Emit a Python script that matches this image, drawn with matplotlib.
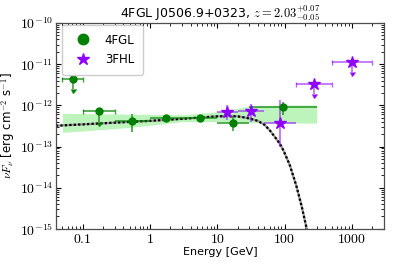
import numpy as np
import matplotlib
matplotlib.use("Agg")
import matplotlib.pyplot as plt
from matplotlib.ticker import FuncFormatter, LogLocator, FixedLocator
from matplotlib.lines import Line2D

plt.rcParams['mathtext.fontset'] = 'cm'
plt.rcParams['font.family'] = ['DejaVu Sans']

# ---- data ----
# 4FGL band fluxes (GeV, erg cm^-2 s^-1)
fgl_E = [0.0707, 0.173, 0.548, 1.73, 5.48, 17.3, 94.9]
fgl_Elo = [0.05, 0.1, 0.3, 1.0, 3.0, 10.0, 30.0]
fgl_Ehi = [0.1, 0.3, 1.0, 3.0, 10.0, 30.0, 300.0]
fgl_F = [4.3e-12, 7.4e-13, 4.1e-13, 4.9e-13, 4.8e-13, 3.7e-13, 9.3e-13]
fgl_Ferr_lo = [1.8e-12, 3.4e-13, 1.8e-13, 0.5e-13, 0.5e-13, 1.3e-13, 3.4e-13]
fgl_Ferr_hi = [0.0, 0.0, 2.0e-13, 0.5e-13, 0.5e-13, 1.8e-13, 2.7e-13]
fgl_ul = [True, True, False, False, False, False, False]

# 3FHL fluxes
fhl_E = [14.1, 31.6, 86.6, 274.0, 1000.0]
fhl_Elo = [10.0, 20.0, 50.0, 150.0, 500.0]
fhl_Ehi = [20.0, 50.0, 150.0, 500.0, 2000.0]
fhl_F = [7.0e-13, 7.4e-13, 3.7e-13, 3.3e-12, 1.15e-11]
fhl_Ferr_lo = [2.5e-13, 3.4e-13, 2.7e-13, 1.4e-12, 5.0e-12]
fhl_Ferr_hi = [3.2e-13, 3.6e-13, 9.8e-13, 0.0, 0.0]
fhl_ul = [False, False, False, True, True]

# 4FGL butterfly
band_E = [0.05, 0.5, 3.0, 10.0, 30.0, 100.0, 300.0]
band_hi = [6.4e-13, 6.1e-13, 5.9e-13, 7.0e-13, 9.5e-13, 1.02e-12, 1.02e-12]
band_lo = [2.2e-13, 2.9e-13, 4.0e-13, 4.0e-13, 3.8e-13, 3.7e-13, 3.7e-13]

# model curve (EBL absorbed)
mod_E = [0.04, 0.1, 0.3, 1.0, 3.0, 6.0, 10.0, 15.0, 20.0, 25.0, 30.0, 40.0,
         50.0, 60.0, 70.0, 80.0, 90.0, 100.0, 120.0, 150.0, 180.0, 214.0, 250.0]
mod_F = [3.2e-13, 3.45e-13, 3.8e-13, 4.2e-13, 4.7e-13, 5.1e-13, 5.4e-13, 5.5e-13,
         5.4e-13, 5.1e-13, 4.8e-13, 4.2e-13, 3.4e-13, 2.5e-13, 1.8e-13, 1.35e-13,
         1.0e-13, 7.0e-14, 3.5e-14, 1.1e-14, 3.5e-15, 1.0e-15, 2.5e-16]

x_ticks = [0.1, 1, 10, 100, 1000]
x_ticklabels = ['0.1', '1', '10', '100', '1000']
y_ticks = [1e-15, 1e-14, 1e-13, 1e-12, 1e-11, 1e-10]

title = r'4FGL J0506.9+0323, $z = 2.03^{+0.07}_{-0.05}$'

# ---- plotting ----
fig = plt.figure(figsize=(3.97, 2.64), dpi=100)
ax = fig.add_axes([0.141, 0.133, 0.826, 0.780])
ax.set_xscale('log')
ax.set_yscale('log')

ax.fill_between(band_E, band_lo, band_hi, color='lightgreen', alpha=0.6, lw=0, zorder=1)
ax.plot(mod_E, mod_F, color='0.6', lw=1.6, zorder=2)
ax.plot(mod_E, mod_F, color='k', lw=1.6, ls=(0, (1, 1)), zorder=2.1)

green = 'green'
purple = '#8f00ff'

def draw(E, Elo, Ehi, F, elo, ehi, ul, color, marker, ms, ecol):
    E = np.array(E); F = np.array(F)
    xerr = np.array([E - np.array(Elo), np.array(Ehi) - E])
    yerr = np.array([elo, ehi])
    ul = np.array(ul)
    det = ~ul
    ax.errorbar(E[det], F[det], xerr=xerr[:, det], yerr=yerr[:, det], fmt=marker,
                color=color, ms=ms, ecolor=ecol, elinewidth=1.2, capsize=0, zorder=3)
    ax.errorbar(E[ul], F[ul], xerr=xerr[:, ul], yerr=yerr[:, ul], uplims=True, fmt=marker,
                color=color, ms=ms, ecolor=ecol, elinewidth=1.2, capsize=1.8, zorder=3)

draw(fgl_E, fgl_Elo, fgl_Ehi, fgl_F, fgl_Ferr_lo, fgl_Ferr_hi, fgl_ul,
     green, 'o', 5, (0.0, 0.5, 0.0, 0.75))
draw(fhl_E, fhl_Elo, fhl_Ehi, fhl_F, fhl_Ferr_lo, fhl_Ferr_hi, fhl_ul,
     purple, '*', 9, (0.56, 0.0, 1.0, 0.6))

ax.set_xlim(0.04, 3000)
ax.set_ylim(1e-15, 1e-10)

ax.tick_params(which='both', direction='in', top=True, right=True, labelsize=10, pad=2)
ax.tick_params(which='major', length=3.5, width=0.8)
ax.tick_params(which='minor', length=2, width=0.6)
ax.xaxis.set_major_locator(FixedLocator(x_ticks))
ax.yaxis.set_major_locator(FixedLocator(y_ticks))
ax.xaxis.set_minor_locator(LogLocator(base=10, subs=np.arange(2, 10), numticks=20))
ax.yaxis.set_minor_locator(LogLocator(base=10, subs=np.arange(2, 10), numticks=20))

ax.xaxis.set_major_formatter(FuncFormatter(
    lambda v, p: r'$\mathrm{%s}$' % x_ticklabels[p] if p is not None and p < len(x_ticklabels) else ''))
ax.yaxis.set_major_formatter(FuncFormatter(
    lambda v, p: r'$\mathrm{10^{%d}}$' % int(round(np.log10(v)))))

for s in ax.spines.values():
    s.set_color('0.3')
    s.set_linewidth(0.9)

ax.set_xlabel('Energy [GeV]', fontsize=8, labelpad=1)
ax.set_ylabel(r'$\nu F_\nu$ [erg cm$^{-2}$ s$^{-1}$]', fontsize=8.5, labelpad=2)
ax.set_title(title, fontsize=9, pad=3)

handles = [Line2D([], [], ls='none', marker='o', color=green, ms=7.5),
           Line2D([], [], ls='none', marker='*', color=purple, ms=9)]
ax.legend(handles, ['4FGL', '3FHL'], loc='upper left', fontsize=8.5,
          bbox_to_anchor=(6 / 328, 1 - 2 / 206), borderaxespad=0,
          borderpad=0.73, handlelength=2.1, labelspacing=0.55, handletextpad=0.8,
          framealpha=1)

fig.savefig('out.png', dpi=100)
